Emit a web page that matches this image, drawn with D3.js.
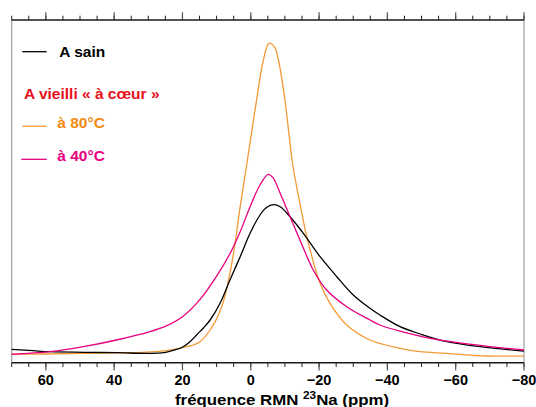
<!DOCTYPE html>
<html><head><meta charset="utf-8">
<script src="https://cdn.jsdelivr.net/npm/d3@7"></script>
<style>
html,body{margin:0;padding:0;background:#fff;}
svg text{font-family:"Liberation Sans",Arial,sans-serif;font-weight:bold;}
</style></head>
<body><svg id="c" width="536" height="407"></svg>
<script>
// ppm positions and intensities (arbitrary units)
const sainPpm = [70,63.7,58.8,49.0,39.3,29.5,25.5,23.6,21.5,19.8,17.8,15.8,13.8,11.9,9.0,6.1,3.1,0.2,-2.7,-4.7,-6.6,-8.6,-11.5,-15.4,-20.3,-25.2,-30.0,-34.9,-37.8,-43.7,-49.6,-57.4,-67.2,-80];
const sainVal = [13.4,12,11,10.4,10,9.4,10,11.5,13.5,16,21,28,35,42.7,59.4,82.7,106,129.4,147.7,155.4,158,156,146,129.4,106,86,67.7,54.4,47.7,36,28.7,21,16,11.5];

const v80Ppm = [70,60.7,49.0,34.4,24.6,18.8,16.8,14.9,11.9,8.5,6.1,4.6,3.1,1.2,-1.7,-3.7,-5.3,-6.9,-8.1,-10.0,-12.3,-14.4,-16.4,-20.3,-23.2,-28.1,-34.9,-43.7,-49.6,-57.4,-69.1,-80];
const v80Val = [8.7,8.7,9.4,10,12,16,17.7,21,32.7,56,89.4,119.4,156,197.7,262.7,302.7,319.4,316,302.7,262.7,197.7,159.4,126,79.4,59.4,37.7,22.7,14.4,11,9.4,6.7,6.7];

const v40Ppm = [70,58.8,49.0,39.3,29.5,24.6,19.8,14.9,10.0,6.1,3.1,0.2,-2.7,-5.1,-6.5,-8.6,-11.5,-14.4,-18.3,-22.2,-28.1,-34.9,-37.8,-43.7,-52.5,-62.2,-80];
const v40Val = [8.4,11,16,22.7,31,37,46.5,63,86.5,109,131,156,177.7,188.4,185,169.4,146,122.7,92.7,72.7,56,42.7,37.7,31.5,24.4,19.4,12.7];

const majorTicks = [60,40,20,0,-20,-40,-60,-80];
const minorTicks = d3.range(70,-80.1,-5);

const svg = d3.select("#c");
const L=11.7, R=524, T=20, B=362.7;
const x = d3.scaleLinear().domain([70,-80]).range([L,R]);
const y = d3.scaleLinear().domain([0,342.7]).range([B,T]);

// frame
svg.append("line").attr("x1",L).attr("x2",L).attr("y1",T).attr("y2",B).attr("stroke","#a0a0a0").attr("stroke-width",1.2);
svg.append("line").attr("x1",R).attr("x2",R).attr("y1",T).attr("y2",B).attr("stroke","#a0a0a0").attr("stroke-width",1.2);

function ticks(g, y0, dir){
  g.selectAll(".mi").data(minorTicks).join("line")
   .attr("x1",d=>x(d)).attr("x2",d=>x(d)).attr("y1",y0).attr("y2",y0+dir*4.3)
   .attr("stroke","#222").attr("stroke-width",1);
  g.selectAll(".ma").data(majorTicks).join("line")
   .attr("x1",d=>x(d)).attr("x2",d=>x(d)).attr("y1",y0).attr("y2",y0+dir*7.7)
   .attr("stroke","#555").attr("stroke-width",1.2);
  g.append("line").attr("x1",L).attr("x2",R).attr("y1",y0).attr("y2",y0).attr("stroke","#1a1a1a").attr("stroke-width",1.4);
}
ticks(svg.append("g"), T, -1);
const gb = svg.append("g");
ticks(gb, B, 1);
const fmt = d3.format("d");
gb.selectAll(".tl").data(majorTicks).join("text")
  .attr("x",d=>x(d)).attr("y",385).attr("text-anchor","middle")
  .attr("font-size",14.5).attr("fill","#000")
  .text(d=>fmt(d));

const title = svg.append("text").attr("x",175).attr("y",404.5).attr("font-size",15).attr("fill","#000")
  .attr("textLength",214).attr("lengthAdjust","spacingAndGlyphs");
title.append("tspan").text("fréquence RMN ");
title.append("tspan").attr("font-size",10.5).attr("dy",-6).text("23");
title.append("tspan").attr("dy",6).text("Na (ppm)");

const line = d3.line().x(d=>x(d[0])).y(d=>y(d[1])).curve(d3.curveCatmullRom.alpha(0.5));
function series(p,v,color){
  svg.append("path").datum(p.map((d,i)=>[d,v[i]]))
   .attr("d",line).attr("fill","none").attr("stroke",color).attr("stroke-width",1.3);
}
series(v80Ppm,v80Val,"#f39a36");
series(sainPpm,sainVal,"#000");
series(v40Ppm,v40Val,"#e6007e");

// legend
const lg = svg.append("g");
lg.append("line").attr("x1",22.3).attr("x2",46.7).attr("y1",51.7).attr("y2",51.7).attr("stroke","#000").attr("stroke-width",1.3);
lg.append("text").attr("x",59.3).attr("y",56.5).attr("font-size",15.5).attr("fill","#000").text("A sain");
lg.append("text").attr("x",24).attr("y",99.3).attr("font-size",15.5).attr("fill","#e8101a").text("A vieilli « à cœur »");
lg.append("line").attr("x1",22.3).attr("x2",46.7).attr("y1",126.3).attr("y2",126.3).attr("stroke","#f39a36").attr("stroke-width",1.3);
lg.append("text").attr("x",57.3).attr("y",128.3).attr("font-size",15.5).attr("fill","#f08a10").text("à 80°C");
lg.append("line").attr("x1",21.3).attr("x2",46.7).attr("y1",159.3).attr("y2",159.3).attr("stroke","#e6007e").attr("stroke-width",1.3);
lg.append("text").attr("x",57.3).attr("y",161).attr("font-size",15.5).attr("fill","#e6007e").text("à 40°C");
</script></body></html>
